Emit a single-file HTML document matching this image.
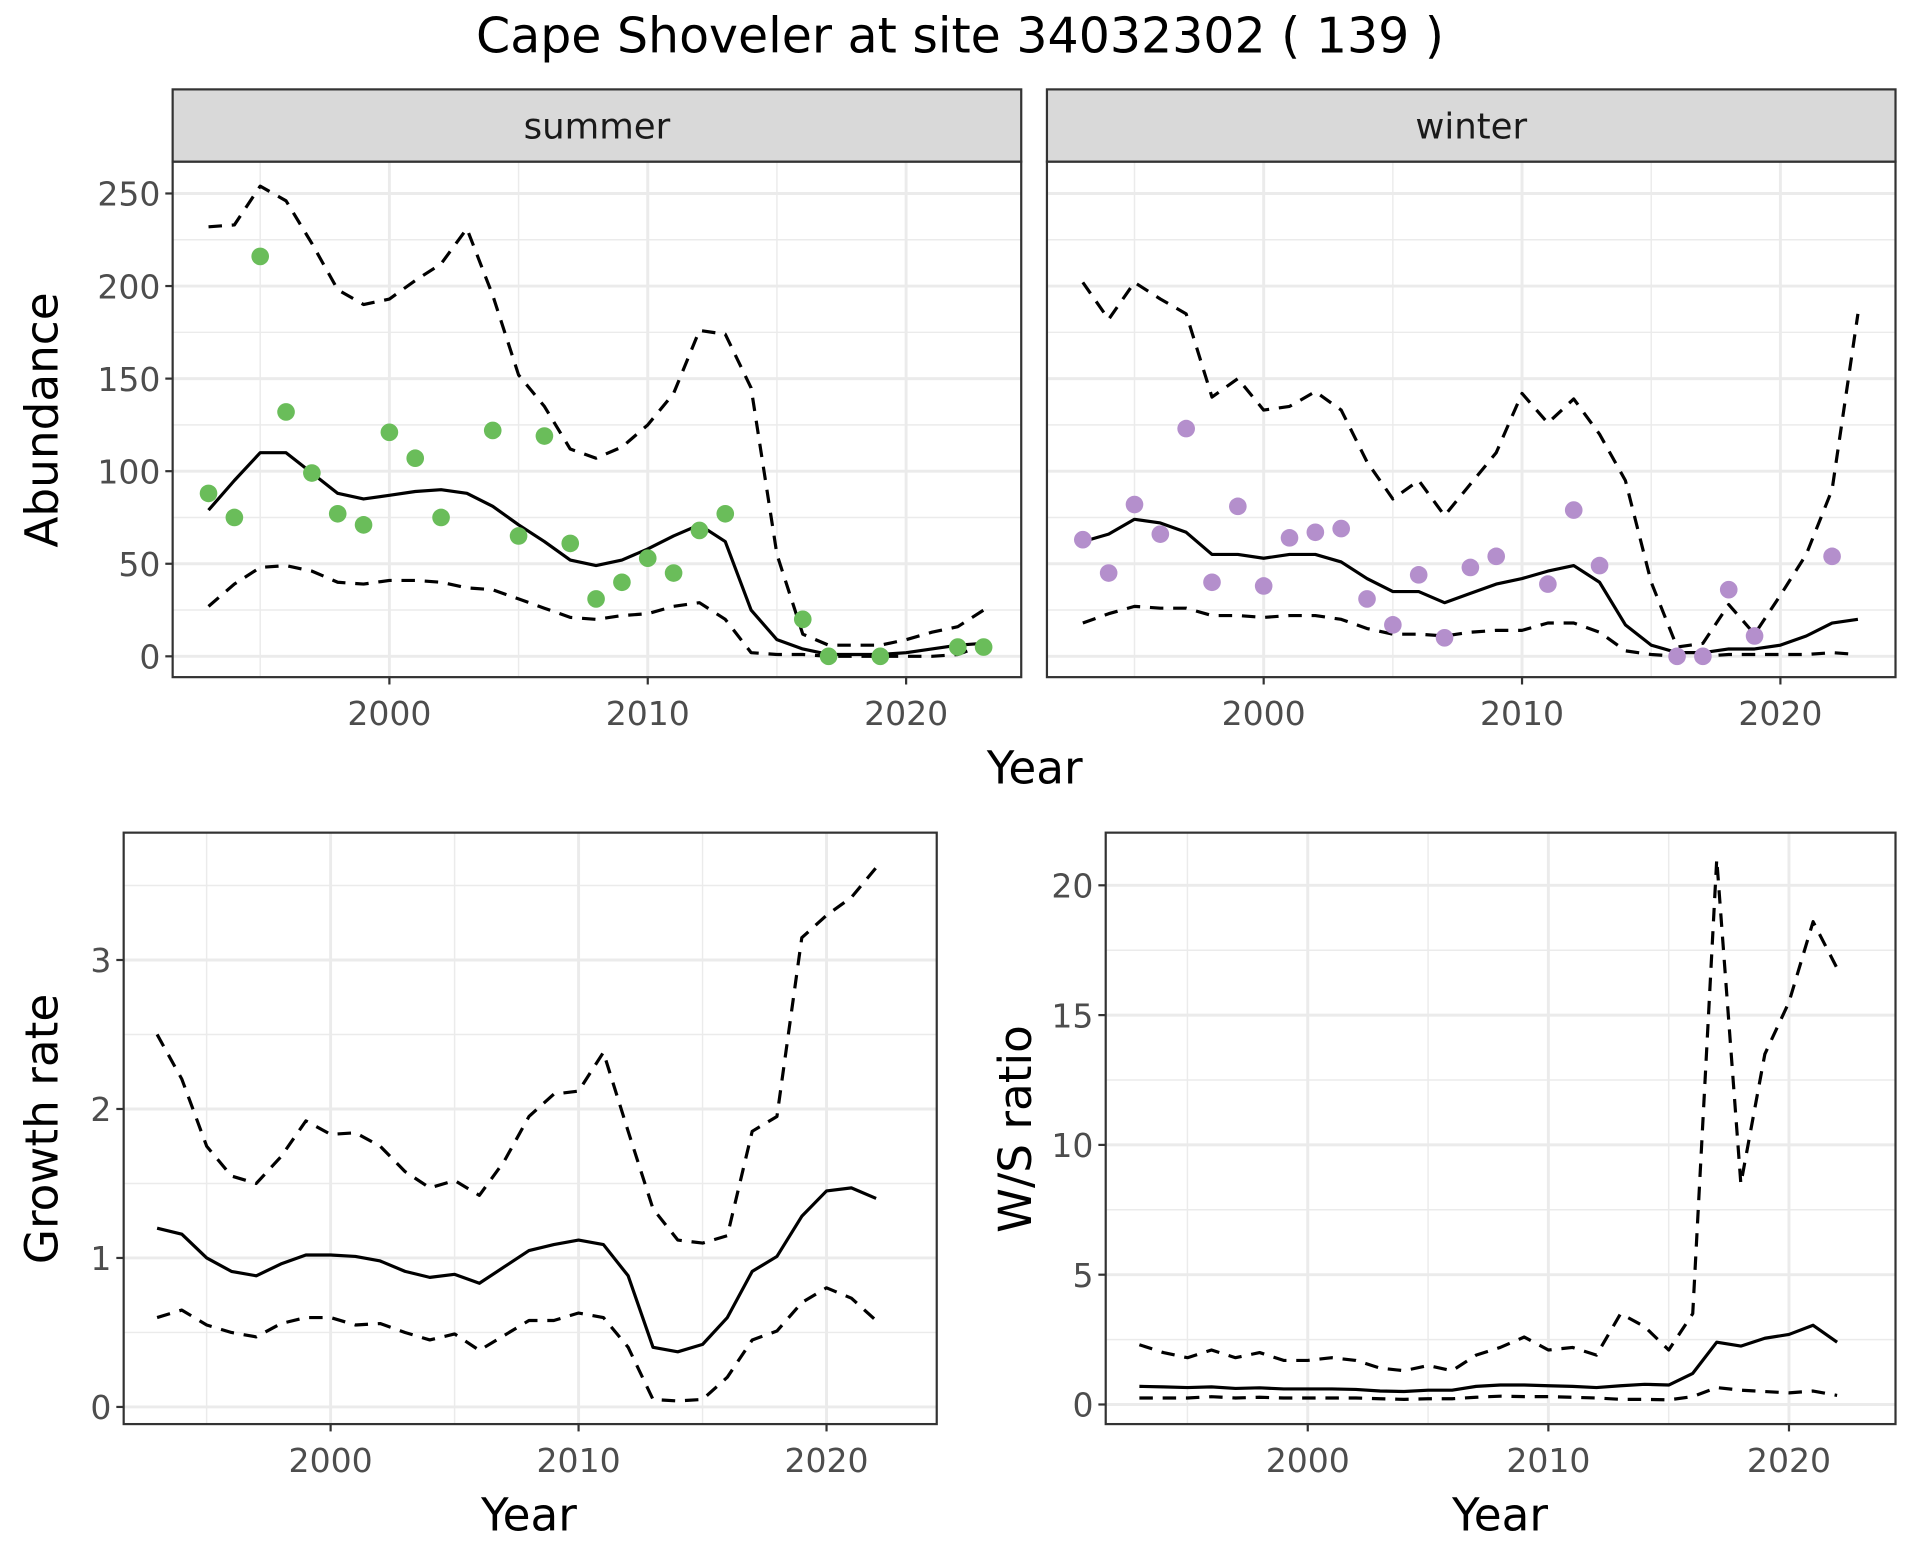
<!DOCTYPE html>
<html><head><meta charset="utf-8"><style>
html,body{margin:0;padding:0;background:#fff}
svg{display:block}
text{font-family:"DejaVu Sans","Liberation Sans",sans-serif}
</style></head><body>
<svg id="chart" width="1920" height="1560" viewBox="0 0 1568 1274" xmlns="http://www.w3.org/2000/svg">
<rect width="1568" height="1274" fill="#fff"/>
<text x="784" y="43" font-size="40" text-anchor="middle" fill="#000">Cape Shoveler at site 34032302 ( 139 )</text>
<g id="g"></g>
</svg>
<script>
const years=[1993,1994,1995,1996,1997,1998,1999,2000,2001,2002,2003,2004,2005,2006,2007,2008,2009,2010,2011,2012,2013,2014,2015,2016,2017,2018,2019,2020,2021,2022,2023];
const sumPtYears=[1993,1994,1995,1996,1997,1998,1999,2000,2001,2002,2004,2005,2006,2007,2008,2009,2010,2011,2012,2013,2016,2017,2019,2022,2023];
const sumPts=[88,75,216,132,99,77,71,121,107,75,122,65,119,61,31,40,53,45,68,77,20,0,0,5,5];
const sumMean=[79,95,110,110,99,88,85,87,89,90,88,81,71,62,52,49,52,58,65,71,62,25,9,4,1,1,1,2,4,6,7];
const sumUp=[232,233,254,246,223,198,190,193,203,212,231,195,152,135,112,107,113,125,142,176,174,145,55,12,6,6,6,9,13,16,25];
const sumLo=[27,39,48,49,46,40,39,41,41,40,37,36,31,26,21,20,22,23,27,29,20,2,1,1,0,0,0,0,0,1,6];
const winPtYears=[1993,1994,1995,1996,1997,1998,1999,2000,2001,2002,2003,2004,2005,2006,2007,2008,2009,2011,2012,2013,2016,2017,2018,2019,2022];
const winPts=[63,45,82,66,123,40,81,38,64,67,69,31,17,44,10,48,54,39,79,49,0,0,36,11,54];
const winMean=[62,66,74,72,67,55,55,53,55,55,51,42,35,35,29,34,39,42,46,49,40,17,6,2,2,4,4,6,11,18,20];
const winUp=[202,182,202,193,185,140,150,133,135,143,133,105,85,95,76,93,110,142,126,139,120,95,40,5,7,28,12,33,55,90,185];
const winLo=[18,23,27,26,26,22,22,21,22,22,20,15,12,12,11,13,14,14,18,18,13,3,1,0,0,1,1,1,1,2,1];
const gYears=years.slice(0,30);
const grMean=[1.20,1.16,1.00,0.91,0.88,0.96,1.02,1.02,1.01,0.98,0.91,0.87,0.89,0.83,0.94,1.05,1.09,1.12,1.09,0.88,0.40,0.37,0.42,0.60,0.91,1.01,1.28,1.45,1.47,1.40];
const grUp=[2.50,2.20,1.75,1.55,1.50,1.68,1.92,1.83,1.84,1.75,1.58,1.47,1.52,1.42,1.65,1.95,2.10,2.12,2.38,1.85,1.33,1.12,1.10,1.15,1.85,1.95,3.15,3.30,3.42,3.62];
const grLo=[0.60,0.65,0.55,0.50,0.47,0.56,0.60,0.60,0.55,0.56,0.50,0.45,0.49,0.38,0.48,0.58,0.58,0.63,0.60,0.40,0.05,0.04,0.05,0.20,0.45,0.51,0.70,0.80,0.73,0.58];
const wsMean=[0.7,0.68,0.65,0.68,0.62,0.64,0.6,0.6,0.6,0.58,0.52,0.5,0.55,0.55,0.7,0.75,0.75,0.72,0.7,0.65,0.72,0.78,0.75,1.2,2.4,2.25,2.55,2.7,3.05,2.4];
const wsUp=[2.3,2.0,1.8,2.1,1.8,2.0,1.7,1.7,1.8,1.7,1.4,1.3,1.5,1.3,1.9,2.2,2.6,2.1,2.2,1.9,3.5,3.0,2.1,3.5,21.0,8.5,13.5,15.5,18.6,16.8];
const wsLo=[0.25,0.25,0.25,0.3,0.25,0.28,0.25,0.25,0.25,0.25,0.22,0.2,0.22,0.22,0.28,0.32,0.3,0.3,0.28,0.25,0.2,0.2,0.18,0.3,0.65,0.55,0.5,0.45,0.52,0.35];
const xTicks=[2000,2010,2020];
const xMinor=[1995,2005,2015];
const abTicks=[0,50,100,150,200,250];
const abMinor=[25,75,125,175,225];
const grTicks=[0,1,2,3];
const grMinor=[0.5,1.5,2.5,3.5];
const wsTicks=[0,5,10,15,20];
const wsMinor=[2.5,7.5,12.5,17.5];

const NS="http://www.w3.org/2000/svg";
const G=document.getElementById('g');
function el(tag,attrs,parent){const e=document.createElementNS(NS,tag);for(const k in attrs)e.setAttribute(k,attrs[k]);(parent||G).appendChild(e);return e;}
function lin(d0,d1,r0,r1){return v=>r0+(v-d0)*(r1-r0)/(d1-d0);}

function panel(name,box,xs,ys,yTicks,yMinor,showY,series,pts,ptYears,ptColor){
  const g=el('g',{});
  
  
  el('rect',{x:box.x0,y:box.y0,width:box.x1-box.x0,height:box.y1-box.y0,fill:'#fff'},g);
  xMinor.forEach(v=>{const l=el('line',{x1:xs(v),x2:xs(v),y1:box.y0,y2:box.y1,stroke:'#ebebeb','stroke-width':1.2},g);});
  yMinor.forEach(v=>{const l=el('line',{x1:box.x0,x2:box.x1,y1:ys(v),y2:ys(v),stroke:'#ebebeb','stroke-width':1.2},g);});
  xTicks.forEach(v=>{const l=el('line',{x1:xs(v),x2:xs(v),y1:box.y0,y2:box.y1,stroke:'#ebebeb','stroke-width':2.4},g);});
  yTicks.forEach(v=>{const l=el('line',{x1:box.x0,x2:box.x1,y1:ys(v),y2:ys(v),stroke:'#ebebeb','stroke-width':2.4},g);});
  series.forEach(s=>{
    const d=s.vals.map((v,i)=>(i?'L':'M')+xs(s.yrs[i]).toFixed(1)+','+ys(v).toFixed(1)).join('');
    const p=el('path',{d:d,fill:'none',stroke:'#000','stroke-width':2.6,'stroke-dasharray':s.dash?'11,8':'none','stroke-linejoin':'round'},g);
    
    
  });
  if(pts){pts.forEach((v,i)=>{
    const c=el('circle',{cx:xs(ptYears[i]),cy:ys(v),r:7.2,fill:ptColor},g);
    
    
  });}
  const b=el('rect',{x:box.x0,y:box.y0,width:box.x1-box.x0,height:box.y1-box.y0,fill:'none',stroke:'#333','stroke-width':1.8},g);
  
  
  xTicks.forEach(v=>{
    el('line',{x1:xs(v),x2:xs(v),y1:box.y1,y2:box.y1+6,stroke:'#333','stroke-width':1.8},g);
    const t=el('text',{x:xs(v),y:box.y1+39,'font-size':27,'text-anchor':'middle',fill:'#4d4d4d'},g);
    t.textContent=v;
    
    
  });
  if(showY){yTicks.forEach(v=>{
    el('line',{x1:box.x0-6,x2:box.x0,y1:ys(v),y2:ys(v),stroke:'#333','stroke-width':1.8},g);
    const t=el('text',{x:box.x0-10,y:ys(v)+10,'font-size':27,'text-anchor':'end',fill:'#4d4d4d'},g);
    t.textContent=v;
    
    
  });}
}
function strip(name,x0,x1,label){
  const r=el('rect',{x:x0,y:73,width:x1-x0,height:59,fill:'#d9d9d9',stroke:'#333','stroke-width':1.8});
  
  
  const t=el('text',{x:(x0+x1)/2,y:113,'font-size':29,'text-anchor':'middle',fill:'#1a1a1a'});
  t.textContent=label;
  
  
}
function label(name,x,y,txt,rot){
  const t=el('text',{x:x,y:y,'font-size':37,'text-anchor':'middle',fill:'#000',transform:rot?`rotate(-90 ${x} ${y})`:''});
  t.textContent=txt;
  
  
}

const abY=lin(0,250,536,158);
panel('summer-panel',{x0:141,x1:834,y0:132,y1:553},lin(2000,2020,318,740),abY,abTicks,abMinor,true,
 [{yrs:years,vals:sumUp,dash:true,name:'summer-upper-ci'},{yrs:years,vals:sumLo,dash:true,name:'summer-lower-ci'},{yrs:years,vals:sumMean,dash:false,name:'summer-mean-line'}],
 sumPts,sumPtYears,'#6abd5a');
strip('summer-strip',141,834,'summer');
panel('winter-panel',{x0:855,x1:1548,y0:132,y1:553},lin(2000,2020,1032,1454),abY,abTicks,abMinor,false,
 [{yrs:years,vals:winUp,dash:true,name:'winter-upper-ci'},{yrs:years,vals:winLo,dash:true,name:'winter-lower-ci'},{yrs:years,vals:winMean,dash:false,name:'winter-mean-line'}],
 winPts,winPtYears,'#b48fcc');
strip('winter-strip',855,1548,'winter');
label('abundance-y-axis-title',47,343,'Abundance',true);
label('top-x-axis-title',845,640,'Year',false);

panel('growth-rate-panel',{x0:101,x1:765,y0:680,y1:1163},lin(2000,2020,270,675),lin(0,3,1149,784),grTicks,grMinor,true,
 [{yrs:gYears,vals:grUp,dash:true,name:'growth-upper-ci'},{yrs:gYears,vals:grLo,dash:true,name:'growth-lower-ci'},{yrs:gYears,vals:grMean,dash:false,name:'growth-mean-line'}]);
label('growth-rate-y-axis-title',47,922,'Growth rate',true);
label('growth-x-axis-title',432,1250,'Year',false);

panel('ws-ratio-panel',{x0:903,x1:1548,y0:680,y1:1163},lin(2000,2020,1068,1461),lin(0,20,1147,723),wsTicks,wsMinor,true,
 [{yrs:gYears,vals:wsUp,dash:true,name:'ws-upper-ci'},{yrs:gYears,vals:wsLo,dash:true,name:'ws-lower-ci'},{yrs:gYears,vals:wsMean,dash:false,name:'ws-mean-line'}]);
label('ws-ratio-y-axis-title',842,922,'W/S ratio',true);
label('ws-x-axis-title',1225,1250,'Year',false);
</script>
</body></html>
